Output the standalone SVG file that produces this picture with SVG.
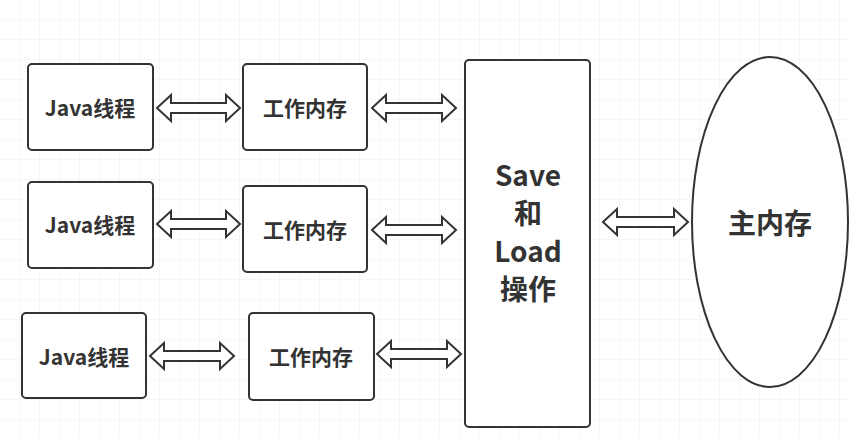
<svg xmlns="http://www.w3.org/2000/svg" width="850" height="437" viewBox="0 0 850 437">
<defs>
<pattern id="g" width="20" height="20" patternUnits="userSpaceOnUse"><path d="M20 0V20H0" fill="none" stroke="#ececec" stroke-width="1"/></pattern>
<style>
.b{fill:#fff;stroke:#333;stroke-width:2}
.t{font-family:"Noto Sans CJK SC","Liberation Sans",sans-serif;font-weight:bold;fill:#333;text-anchor:middle;dominant-baseline:central}
.a{fill:#fff;stroke:#333;stroke-width:2;stroke-linejoin:miter}
</style>
</defs>
<rect width="850" height="437" fill="#fff"/>
<rect width="850" height="437" fill="url(#g)"/>
<g id="connectors">
<polygon class="a" transform="translate(157,108)" points="0,0 14,-13 14,-5 69,-5 69,-13 83,0 69,13 69,5 14,5 14,13"/>
<polygon class="a" transform="translate(372,108)" points="0,0 14,-13 14,-5 70,-5 70,-13 84,0 70,13 70,5 14,5 14,13"/>
<polygon class="a" transform="translate(157,224)" points="0,0 14,-13 14,-5 69,-5 69,-13 83,0 69,13 69,5 14,5 14,13"/>
<polygon class="a" transform="translate(372,230)" points="0,0 14,-13 14,-5 70,-5 70,-13 84,0 70,13 70,5 14,5 14,13"/>
<polygon class="a" transform="translate(150,356)" points="0,0 14,-13 14,-5 70,-5 70,-13 84,0 70,13 70,5 14,5 14,13"/>
<polygon class="a" transform="translate(377,354)" points="0,0 14,-13 14,-5 70,-5 70,-13 84,0 70,13 70,5 14,5 14,13"/>
<polygon class="a" transform="translate(603,222)" points="0,0 14,-13 14,-5 71,-5 71,-13 85,0 71,13 71,5 14,5 14,13"/>
</g>
<g id="j1"><rect class="b" x="28" y="64" width="125" height="86" rx="4"/><text class="t" x="90" y="107" font-size="21">Java线程</text></g>
<g id="w1"><rect class="b" x="243" y="64" width="124" height="86" rx="4"/><text class="t" x="305" y="107" font-size="21">工作内存</text></g>
<g id="j2"><rect class="b" x="28" y="182" width="125" height="86" rx="4"/><text class="t" x="90" y="224" font-size="21">Java线程</text></g>
<g id="w2"><rect class="b" x="243" y="186" width="124" height="86" rx="4"/><text class="t" x="305" y="229" font-size="21">工作内存</text></g>
<g id="j3"><rect class="b" x="22" y="313" width="124" height="85" rx="4"/><text class="t" x="84" y="356" font-size="21">Java线程</text></g>
<g id="w3"><rect class="b" x="249" y="313" width="125" height="87" rx="4"/><text class="t" x="311" y="356" font-size="21">工作内存</text></g>
<g id="sl"><rect class="b" x="465" y="60" width="125" height="367" rx="4"/>
<text class="t" x="528" y="174" font-size="28">Save</text>
<text class="t" x="528" y="212" font-size="28">和</text>
<text class="t" x="528" y="250" font-size="28">Load</text>
<text class="t" x="528" y="288" font-size="28">操作</text></g>
<g id="main"><ellipse class="b" cx="770" cy="222" rx="78" ry="165"/><text class="t" x="770" y="222" font-size="28">主内存</text></g>
</svg>
